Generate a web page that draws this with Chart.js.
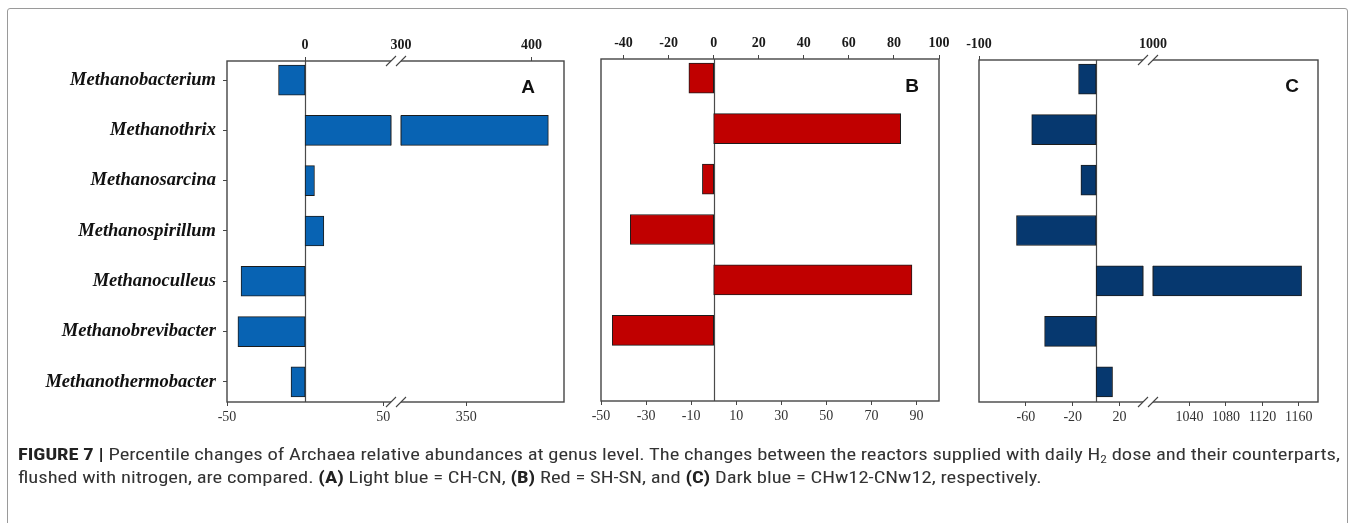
<!DOCTYPE html>
<html>
<head>
<meta charset="utf-8">
<title>Percentile changes of Archaea relative abundances</title>
<script src="https://cdn.jsdelivr.net/npm/chart.js@4/dist/chart.umd.min.js"></script>
<style>
  html, body { margin: 0; padding: 0; background: #fff; }
  #fig { position: relative; width: 1357px; height: 523px; overflow: hidden; background: #fff; }
  #fig canvas { position: absolute; left: 0; top: 0; }
  #frame { position: absolute; left: 7px; top: 8px; width: 1341px; height: 600px;
           border: 1.5px solid #9a9a9a; border-radius: 3px; box-sizing: border-box; }
  .cap { position: absolute; left: 18px; white-space: nowrap; line-height: 23px;
         font-family: "Liberation Sans Narrow", "Roboto Condensed", "Liberation Sans", Arial, sans-serif;
         font-size: 17px; color: #333; transform-origin: 0 0; }
  .cap b { color: #222; }
  .cap sub { font-size: 11px; line-height: 0; vertical-align: -3px; }
</style>
</head>
<body>
<div id="fig">
  <div id="frame"></div>
  <canvas id="panelA" width="1357" height="523"></canvas>
  <canvas id="panelB" width="1357" height="523"></canvas>
  <canvas id="panelC" width="1357" height="523"></canvas>
  <div class="cap" id="cap1" style="top:443px"><b>FIGURE 7 |</b> Percentile changes of Archaea relative abundances at genus level. The changes between the reactors supplied with daily H<sub>2</sub> dose and their counterparts,</div>
  <div class="cap" id="cap2" style="top:466px">flushed with nitrogen, are compared. <b>(A)</b> Light blue = CH-CN, <b>(B)</b> Red = SH-SN, and <b>(C)</b> Dark blue = CHw12-CNw12, respectively.</div>
</div>

<script>
// Archaeal genera (top to bottom)
const genera = ['Methanobacterium', 'Methanothrix', 'Methanosarcina', 'Methanospirillum',
                'Methanoculleus', 'Methanobrevibacter', 'Methanothermobacter'];

// Percentile change per genus
const changeCH_CN = [-17, 413, 6, 12, -41, -43, -9];          // (A) CH-CN
const changeSH_SN = [-11, 83, -5, -37, 88, -45, null];        // (B) SH-SN
const changeCHw12_CNw12 = [-15, -55, -13, -68, 1163, -44, 14]; // (C) CHw12-CNw12

// Axis tick labels
const ticksTopA = [0, 300, 400];
const ticksBottomA = [-50, 50, 350];
const ticksTopB = [-40, -20, 0, 20, 40, 60, 80, 100];
const ticksBottomB = [-50, -30, -10, 10, 30, 50, 70, 90];
const ticksTopC = [-100, 1000];
const ticksBottomC = [-60, -20, 20, 1040, 1080, 1120, 1160];

// Axis segments for the broken value axes
const axisLayouts = {
  A: { segments: [{ from: -50, to: 55, share: 164 }, { from: 300, to: 425, share: 163 }], gap: 10 },
  B: { segments: [{ from: -50, to: 100, share: 1 }], gap: 0 },
  C: { segments: [{ from: -100, to: 40, share: 164 }, { from: 1000, to: 1181, share: 165 }], gap: 10 }
};

const SERIF = '"Liberation Serif", "Times New Roman", Times, serif';
const W = 1357, H = 523;

// Linear scale with one or more axis breaks
class BrokenLinearScale extends Chart.LinearScale {
  static id = 'brokenLinear';
  static defaults = {};

  layoutDef() { return axisLayouts[this.options.layoutKey]; }

  determineDataLimits() {
    const s = this.layoutDef().segments;
    this.min = s[0].from;
    this.max = s[s.length - 1].to;
  }

  buildTicks() {
    return this.options.tickValues.slice().map(v => ({ value: v }));
  }

  segmentPixels() {
    const { segments, gap } = this.layoutDef();
    const total = this.width - gap * (segments.length - 1);
    const shareSum = segments.reduce((a, g) => a + g.share, 0);
    let p = this.left;
    return segments.map(g => {
      const w = total * g.share / shareSum;
      const r = { from: g.from, to: g.to, p0: p, p1: p + w };
      p += w + gap;
      return r;
    });
  }

  gapPixels() {
    const L = this.segmentPixels();
    const out = [];
    for (let i = 1; i < L.length; i++) out.push([L[i - 1].p1, L[i].p0]);
    return out;
  }

  getPixelForValue(value) {
    if (value === null || value === undefined || isNaN(value)) return NaN;
    const L = this.segmentPixels();
    for (let i = 0; i < L.length; i++) {
      const g = L[i];
      if (value <= g.to || i === L.length - 1) {
        if (i > 0 && value < g.from) {
          const prev = L[i - 1];
          return prev.p1 + (g.p0 - prev.p1) * (value - prev.to) / (g.from - prev.to);
        }
        return g.p0 + (value - g.from) / (g.to - g.from) * (g.p1 - g.p0);
      }
    }
    return NaN;
  }

  getValueForPixel(pixel) {
    const L = this.segmentPixels();
    for (let i = 0; i < L.length; i++) {
      const g = L[i];
      if (pixel <= g.p1 || i === L.length - 1) {
        return g.from + (pixel - g.p0) / (g.p1 - g.p0) * (g.to - g.from);
      }
    }
    return NaN;
  }
}
Chart.register(BrokenLinearScale);

// Frame, zero line, axis-break marks and panel letter
function panelDecor(p) {
  return {
    id: 'panelDecor',
    beforeDatasetsDraw(chart) {
      const { ctx, chartArea: a } = chart;
      const x0 = Math.round(chart.scales.x.getPixelForValue(0)) + 0.5;
      ctx.save();
      ctx.strokeStyle = '#4a4a4a';
      ctx.lineWidth = 1.2;
      ctx.beginPath();
      ctx.moveTo(x0, a.top);
      ctx.lineTo(x0, a.bottom);
      ctx.stroke();
      ctx.restore();
    },
    afterDatasetsDraw(chart) {
      const { ctx, chartArea: a } = chart;
      const gaps = chart.scales.x.gapPixels();
      ctx.save();
      // split bars that run across an axis break
      chart.getDatasetMeta(0).data.forEach(bar => {
        const { x, base, y, height } = bar.getProps(['x', 'base', 'y', 'height'], true);
        if (!isFinite(x)) return;
        const lo = Math.min(x, base), hi = Math.max(x, base);
        gaps.forEach(([g0, g1]) => {
          if (lo < g0 && hi > g1) {
            ctx.fillStyle = '#fff';
            ctx.fillRect(g0, y - height / 2 - 1.5, g1 - g0, height + 3);
            ctx.strokeStyle = '#1c1c1c';
            ctx.lineWidth = 1;
            ctx.beginPath();
            ctx.moveTo(g0, y - height / 2);
            ctx.lineTo(g0, y + height / 2);
            ctx.moveTo(g1, y - height / 2);
            ctx.lineTo(g1, y + height / 2);
            ctx.stroke();
          }
        });
      });
      // plot box
      ctx.strokeStyle = '#454545';
      ctx.lineWidth = 1.4;
      ctx.strokeRect(a.left, a.top, a.right - a.left, a.bottom - a.top);
      // break marks on the top and bottom edges
      gaps.forEach(([g0, g1]) => {
        [a.top, a.bottom].forEach(yb => {
          ctx.fillStyle = '#fff';
          ctx.fillRect(g0, yb - 1.5, g1 - g0, 3);
          ctx.strokeStyle = '#454545';
          ctx.lineWidth = 1.1;
          ctx.beginPath();
          ctx.moveTo(g0 - 5, yb + 5);
          ctx.lineTo(g0 + 5, yb - 5);
          ctx.moveTo(g1 - 5, yb + 5);
          ctx.lineTo(g1 + 5, yb - 5);
          ctx.stroke();
        });
      });
      // panel letter
      ctx.font = 'bold 19px "Liberation Sans", Arial, sans-serif';
      ctx.fillStyle = '#111';
      ctx.textAlign = 'center';
      ctx.textBaseline = 'middle';
      ctx.fillText(p.letter, p.letterX, p.letterY);
      ctx.restore();
    }
  };
}

function valueAxis(p, position, ticks, height) {
  const top = position === 'top';
  const hidden = p.hideTickAt || [];
  return {
    type: 'brokenLinear',
    position,
    layoutKey: p.key,
    tickValues: ticks,
    afterFit: s => { s.height = height; },
    grid: {
      display: true,
      drawOnChartArea: false,
      drawTicks: true,
      tickLength: 4,
      lineWidth: 1,
      tickColor: c => (c.tick && hidden.includes(c.tick.value)) ? 'rgba(0,0,0,0)' : '#454545'
    },
    border: { display: false },
    ticks: {
      autoSkip: false,
      maxRotation: 0,
      padding: 3,
      color: top ? '#1a1a1a' : '#333',
      font: { family: SERIF, size: 14, weight: top ? 'bold' : 'normal' },
      callback: v => String(v)
    }
  };
}

function makePanel(canvasId, p) {
  return new Chart(document.getElementById(canvasId), {
    type: 'bar',
    data: {
      datasets: [{
        data: p.values.map((v, i) => ({ x: v, y: i })),
        backgroundColor: p.color,
        borderColor: '#1c1c1c',
        borderWidth: 1,
        borderSkipped: false,
        barThickness: 30,
        xAxisID: 'x',
        yAxisID: 'y'
      }]
    },
    options: {
      indexAxis: 'y',
      responsive: false,
      animation: false,
      events: [],
      layout: {
        autoPadding: false,
        padding: {
          left: p.showLabels ? 0 : p.left,
          right: W - p.right,
          top: 0,
          bottom: H - p.bottom - 30
        }
      },
      plugins: { legend: { display: false }, tooltip: { enabled: false } },
      scales: {
        x: valueAxis(p, 'bottom', p.bottomTicks, 30),
        xTop: valueAxis(p, 'top', p.topTicks, p.top),
        y: {
          type: 'linear',
          reverse: true,
          offset: false,
          min: -0.38,
          max: 6.4,
          display: p.showLabels,
          afterBuildTicks: s => { s.ticks = genera.map((_, i) => ({ value: i })); },
          afterFit: s => { if (p.showLabels) s.width = p.left; },
          grid: { display: true, offset: false, drawOnChartArea: false, drawTicks: true, tickLength: 4, tickColor: '#454545', lineWidth: 1 },
          border: { display: false },
          ticks: {
            autoSkip: false,
            padding: 7,
            color: '#111',
            font: { family: SERIF, size: 18.5, style: 'italic', weight: 'bold' },
            callback: v => genera[v]
          }
        }
      }
    },
    plugins: [panelDecor(p)]
  });
}

makePanel('panelA', {
  key: 'A', values: changeCH_CN, color: '#0863b3',
  left: 227, right: 564, top: 61, bottom: 402, showLabels: true,
  topTicks: ticksTopA, bottomTicks: ticksBottomA, hideTickAt: [300],
  letter: 'A', letterX: 528, letterY: 88
});

makePanel('panelB', {
  key: 'B', values: changeSH_SN, color: '#c00000',
  left: 601, right: 939, top: 59, bottom: 401, showLabels: false,
  topTicks: ticksTopB, bottomTicks: ticksBottomB,
  letter: 'B', letterX: 912, letterY: 87
});

makePanel('panelC', {
  key: 'C', values: changeCHw12_CNw12, color: '#06386f',
  left: 979, right: 1318, top: 60, bottom: 402, showLabels: false,
  topTicks: ticksTopC, bottomTicks: ticksBottomC, hideTickAt: [1000],
  letter: 'C', letterX: 1292, letterY: 87
});

// Caption set in a condensed width
function fitCaption() {
  const c1 = document.getElementById('cap1');
  const c2 = document.getElementById('cap2');
  c1.style.transform = c2.style.transform = 'none';
  const w = c1.getBoundingClientRect().width;
  const s = 1322 / w;
  c1.style.transform = c2.style.transform = 'scaleX(' + s + ')';
}
fitCaption();
if (document.fonts && document.fonts.ready) document.fonts.ready.then(fitCaption);
</script>
</body>
</html>
